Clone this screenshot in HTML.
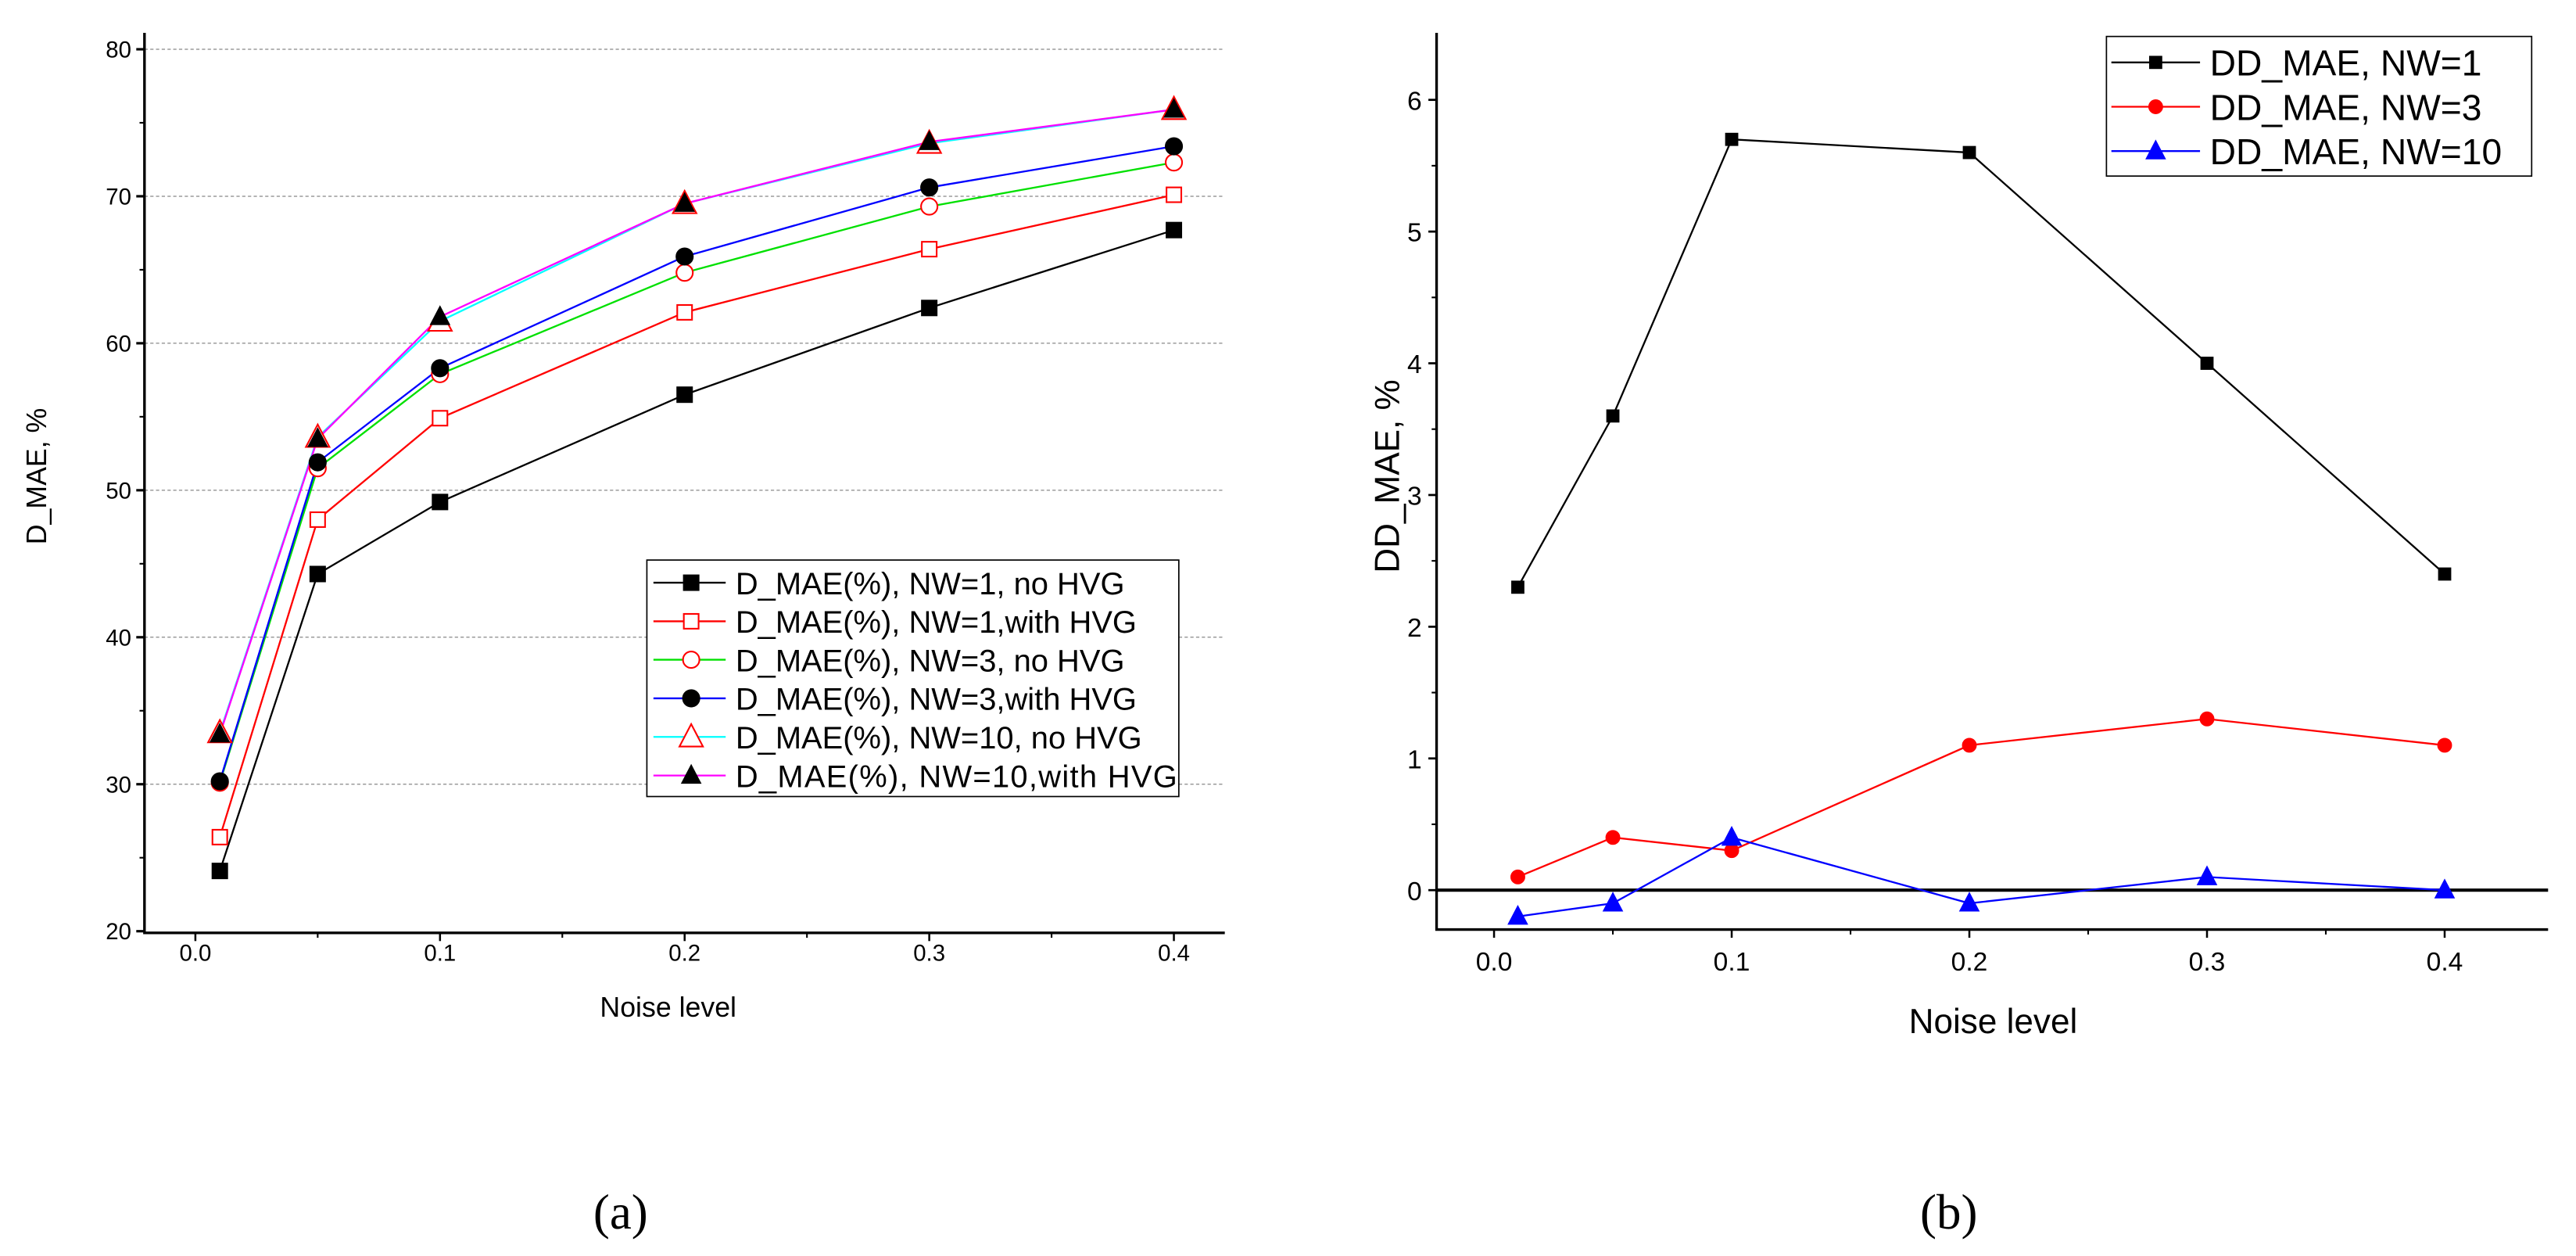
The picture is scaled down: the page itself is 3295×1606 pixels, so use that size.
<!DOCTYPE html>
<html><head><meta charset="utf-8"><style>
html,body{margin:0;padding:0;background:#fff;}
svg{display:block;font-family:"Liberation Sans",Arial,sans-serif;}
</style></head><body>
<svg id="svg" width="3295" height="1606" viewBox="0 0 1569 764.76" preserveAspectRatio="none" xmlns="http://www.w3.org/2000/svg">
<g id="chartA"></g>
<g id="chartB"></g>
<text x="378" y="748" text-anchor="middle" font-family="Liberation Serif, serif" font-size="30">(a)</text>
<text x="1187" y="748" text-anchor="middle" font-family="Liberation Serif, serif" font-size="30">(b)</text>
</svg>
<script>
// ---- Chart A data ----
const xCatsA = [0.01, 0.05, 0.1, 0.2, 0.3, 0.4];
const nw1NoHvg = [24.1, 44.3, 49.2, 56.5, 62.4, 67.7];
const nw1WithHvg = [26.4, 48.0, 54.9, 62.1, 66.4, 70.1];
const nw3NoHvg = [30.1, 51.5, 57.9, 64.8, 69.3, 72.3];
const nw3WithHvg = [30.2, 51.9, 58.3, 65.9, 70.6, 73.4];
const nw10NoHvg = [33.5, 53.6, 61.5, 69.5, 73.6, 75.9];
const nw10WithHvg = [33.4, 53.5, 61.8, 69.5, 73.7, 75.9];
const yTicksA = [20, 30, 40, 50, 60, 70, 80];
const xTicksA = ["0.0", "0.1", "0.2", "0.3", "0.4"];
const legendA = ["D_MAE(%), NW=1, no HVG", "D_MAE(%), NW=1,with HVG", "D_MAE(%), NW=3, no HVG", "D_MAE(%), NW=3,with HVG", "D_MAE(%), NW=10, no HVG", "D_MAE(%), NW=10,with HVG"];
// ---- Chart B data ----
const xCatsB = [0.01, 0.05, 0.1, 0.2, 0.3, 0.4];
const ddNw1 = [2.3, 3.6, 5.7, 5.6, 4.0, 2.4];
const ddNw3 = [0.1, 0.4, 0.3, 1.1, 1.3, 1.1];
const ddNw10 = [-0.2, -0.1, 0.4, -0.1, 0.1, 0.0];
const yTicksB = [0, 1, 2, 3, 4, 5, 6];
const xTicksB = ["0.0", "0.1", "0.2", "0.3", "0.4"];
const legendB = ["DD_MAE, NW=1", "DD_MAE, NW=3", "DD_MAE, NW=10"];

const NS = "http://www.w3.org/2000/svg";
function mk(parent, tag, attrs, text) {
  const e = document.createElementNS(NS, tag);
  for (const k in attrs) if (attrs[k] !== undefined) e.setAttribute(k, attrs[k]);
  if (text !== undefined) e.textContent = text;
  parent.appendChild(e);
  return e;
}
function marker(g, type, cx, cy, s, fill, stroke) {
  let e;
  if (type === "square") e = mk(g, "rect", {x: cx - s/2, y: cy - s/2, width: s, height: s, fill: fill, stroke: stroke, "stroke-width": 1});
  else if (type === "circle") e = mk(g, "circle", {cx: cx, cy: cy, r: s/2, fill: fill, stroke: stroke, "stroke-width": 1});
  else e = mk(g, "polygon", {points: `${cx},${cy - s*0.6} ${cx - s*0.55},${cy + s*0.45} ${cx + s*0.55},${cy + s*0.45}`, fill: fill, stroke: stroke, "stroke-width": 1});
  return e;
}

// ===== Chart A =====
(function(){
  const g = document.getElementById("chartA");
  const xa = v => 119 + v * 1490;
  const ya = v => 567 - (v - 20) * 8.95;
  const L = 88, R = 746, T = 20, B = 568;
  yTicksA.forEach(v => {
    if (v > 20) {
      const gl = mk(g, "line", {x1: L, x2: R, y1: ya(v), y2: ya(v), stroke: "#888", "stroke-width": 0.6, "stroke-dasharray": "2,1.5"});
      
      
    }
    mk(g, "line", {x1: L - 5, x2: L, y1: ya(v), y2: ya(v), stroke: "#000", "stroke-width": 1.5});
    const t = mk(g, "text", {x: L - 8, y: ya(v) + 5, "text-anchor": "end", "font-size": 14}, String(v));
    
    
    if (v < 80) mk(g, "line", {x1: L - 3, x2: L, y1: ya(v + 5), y2: ya(v + 5), stroke: "#000", "stroke-width": 1});
  });
  xTicksA.forEach((lab, i) => {
    const v = i * 0.1;
    mk(g, "line", {x1: xa(v), x2: xa(v), y1: B, y2: B + 5, stroke: "#000", "stroke-width": 1.2});
    if (i < 4) mk(g, "line", {x1: xa(v + 0.05), x2: xa(v + 0.05), y1: B, y2: B + 3, stroke: "#000", "stroke-width": 1});
    const t = mk(g, "text", {x: xa(v), y: 585, "text-anchor": "middle", "font-size": 14}, lab);
    
    
  });
  const ax = mk(g, "path", {d: `M${L},${T} V${B} H${R}`, fill: "none", stroke: "#000", "stroke-width": 1.6});
  
  
  const xt = mk(g, "text", {x: 407, y: 619, "text-anchor": "middle", "font-size": 17}, "Noise level");
  
  
  const yt = mk(g, "text", {x: 0, y: 0, "text-anchor": "middle", "font-size": 17, transform: "translate(28,290) rotate(-90)"}, "D_MAE, %");
  
  

  const series = [
    {vals: nw1NoHvg, line: "#000", m: "square", fill: "#000", stroke: "#000", s: 9, name: "series-nw1-no-hvg"},
    {vals: nw1WithHvg, line: "#ff0000", m: "square", fill: "#fff", stroke: "#ff0000", s: 9, name: "series-nw1-with-hvg"},
    {vals: nw3NoHvg, line: "#00e000", m: "circle", fill: "#fff", stroke: "#ff0000", s: 10, name: "series-nw3-no-hvg"},
    {vals: nw3WithHvg, line: "#0000ff", m: "circle", fill: "#000", stroke: "#000", s: 10, name: "series-nw3-with-hvg"},
    {vals: nw10NoHvg, line: "#00ffff", m: "triangle", fill: "#fff", stroke: "#ff0000", s: 13, name: "series-nw10-no-hvg"},
    {vals: nw10WithHvg, line: "#ff00ff", m: "triangle", fill: "#000", stroke: "#000", s: 10, name: "series-nw10-with-hvg"}
  ];
  series.forEach(sr => {
    const sg = mk(g, "g", {});
    
    
    const pts = sr.vals.map((v, i) => `${xa(xCatsA[i])},${ya(v)}`).join(" ");
    mk(sg, "polyline", {points: pts, fill: "none", stroke: sr.line, "stroke-width": 1.1});
  });
  series.forEach(sr => {
    sr.vals.forEach((v, i) => {
      const p = marker(g, sr.m, xa(xCatsA[i]), ya(v), sr.s, sr.fill, sr.stroke);
      
      
    });
  });
  const lg = mk(g, "g", {});
  
  
  mk(lg, "rect", {x: 394, y: 341, width: 324, height: 144, fill: "#fff", stroke: "#000", "stroke-width": 0.8});
  const rows = [354.8, 378.3, 401.7, 425.2, 448.7, 472.2];
  legendA.forEach((lab, i) => {
    const sr = series[i];
    const eg = mk(lg, "g", {});
    
    
    mk(eg, "line", {x1: 398, x2: 442, y1: rows[i], y2: rows[i], stroke: sr.line, "stroke-width": 1.1});
    marker(eg, sr.m, 421, rows[i], sr.s, sr.fill, sr.stroke);
    mk(eg, "text", {x: 448, y: rows[i] + 7, "font-size": 19, textLength: i === 5 ? 269 : undefined}, lab);
  });
})();

// ===== Chart B =====
(function(){
  const g = document.getElementById("chartB");
  const xb = v => 910 + v * 1447.5;
  const yb = v => 542 - v * 80.2;
  const L = 875, R = 1552, T = 20, B = 566;
  yTicksB.forEach(v => {
    mk(g, "line", {x1: L - 5, x2: L, y1: yb(v), y2: yb(v), stroke: "#000", "stroke-width": 1.3});
    if (v < 6) mk(g, "line", {x1: L - 3, x2: L, y1: yb(v + 0.5), y2: yb(v + 0.5), stroke: "#000", "stroke-width": 1});
    const t = mk(g, "text", {x: L - 9, y: yb(v) + 6, "text-anchor": "end", "font-size": 16}, String(v));
    
    
  });
  xTicksB.forEach((lab, i) => {
    const v = i * 0.1;
    mk(g, "line", {x1: xb(v), x2: xb(v), y1: B, y2: B + 5, stroke: "#000", "stroke-width": 1.2});
    if (i < 4) mk(g, "line", {x1: xb(v + 0.05), x2: xb(v + 0.05), y1: B, y2: B + 3, stroke: "#000", "stroke-width": 1});
    const t = mk(g, "text", {x: xb(v), y: 591, "text-anchor": "middle", "font-size": 16}, lab);
    
    
  });
  const ax = mk(g, "path", {d: `M${L},${T} V${B} H${R}`, fill: "none", stroke: "#000", "stroke-width": 1.6});
  
  
  const zl = mk(g, "line", {x1: L, x2: R, y1: yb(0), y2: yb(0), stroke: "#000", "stroke-width": 2});
  
  
  const xt = mk(g, "text", {x: 1214, y: 629, "text-anchor": "middle", "font-size": 21}, "Noise level");
  
  
  const yt = mk(g, "text", {x: 0, y: 0, "text-anchor": "middle", "font-size": 21, transform: "translate(852,290) rotate(-90)"}, "DD_MAE, %");
  
  

  const series = [
    {vals: ddNw1, col: "#000", m: "square", s: 7, name: "series-dd-nw1"},
    {vals: ddNw3, col: "#ff0000", m: "circle", s: 8, name: "series-dd-nw3"},
    {vals: ddNw10, col: "#0000ff", m: "triangle", s: 10, name: "series-dd-nw10"}
  ];
  series.forEach(sr => {
    const sg = mk(g, "g", {});
    
    
    const pts = sr.vals.map((v, i) => `${xb(xCatsB[i])},${yb(v)}`).join(" ");
    mk(sg, "polyline", {points: pts, fill: "none", stroke: sr.col, "stroke-width": 1.1});
    sr.vals.forEach((v, i) => {
      const p = marker(sg, sr.m, xb(xCatsB[i]), yb(v), sr.s, sr.col, sr.col);
      
      
    });
  });
  const lg = mk(g, "g", {});
  
  
  mk(lg, "rect", {x: 1283, y: 22.2, width: 259, height: 85, fill: "#fff", stroke: "#000", "stroke-width": 0.8});
  const rows = [38, 65, 92];
  legendB.forEach((lab, i) => {
    const sr = series[i];
    const eg = mk(lg, "g", {});
    
    
    mk(eg, "line", {x1: 1286, x2: 1340, y1: rows[i], y2: rows[i], stroke: sr.col, "stroke-width": 1.1});
    marker(eg, sr.m, 1313, rows[i], sr.s, sr.col, sr.col);
    mk(eg, "text", {x: 1346, y: rows[i] + 8, "font-size": 22}, lab);
  });
})();
</script>
</body></html>
